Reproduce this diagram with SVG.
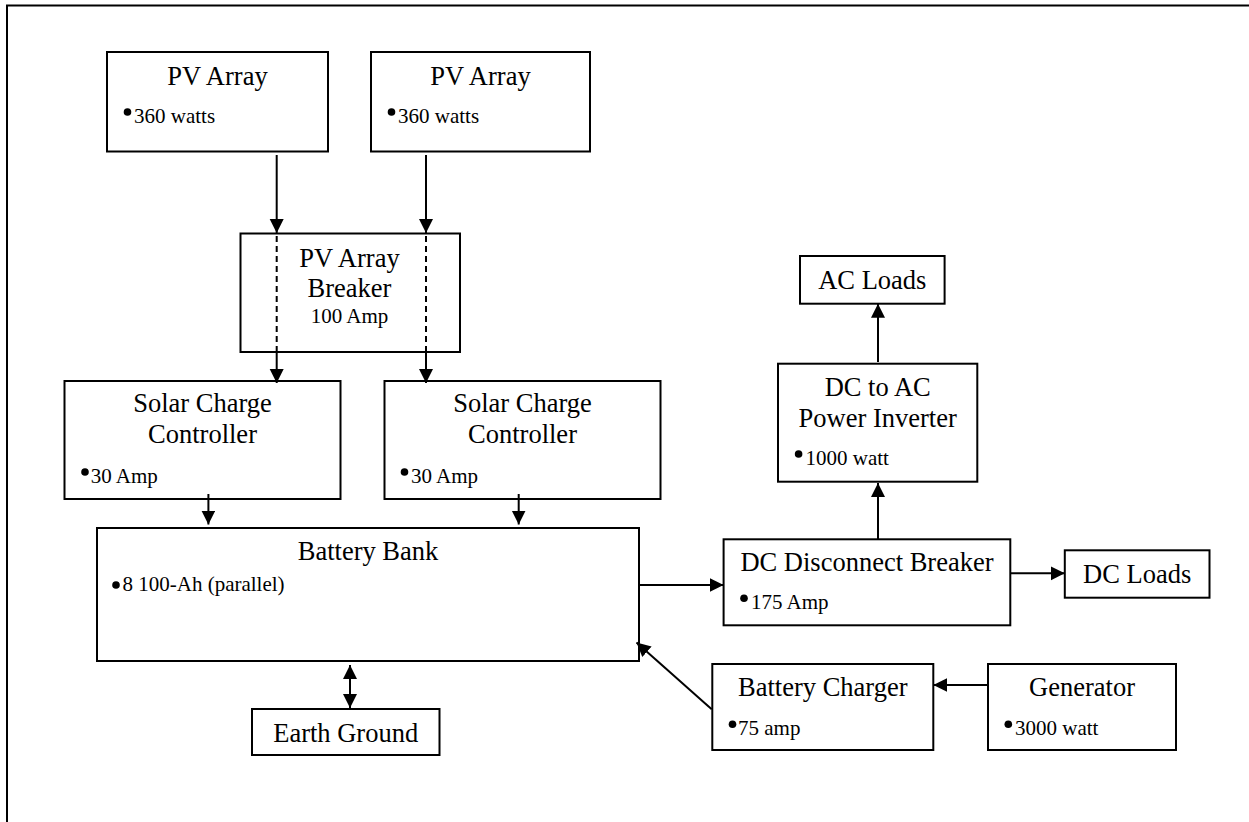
<svg xmlns="http://www.w3.org/2000/svg" width="1249" height="822" viewBox="0 0 1249 822">
<defs>
<style>
.box{fill:#fff;stroke:#000;stroke-width:2}
.t{font-family:"Liberation Serif","Times New Roman",serif;font-size:26.5px;fill:#000;text-anchor:middle}
.s{font-family:"Liberation Serif","Times New Roman",serif;font-size:21px;fill:#000}
.sc{font-family:"Liberation Serif","Times New Roman",serif;font-size:21px;fill:#000;text-anchor:middle}
.b{fill:#000}
.ln{stroke:#000;stroke-width:2;fill:none}
.dash{stroke:#000;stroke-width:2;fill:none;stroke-dasharray:6 4}
</style>
<marker id="ah" markerUnits="userSpaceOnUse" markerWidth="15" markerHeight="15" refX="14" refY="7" orient="auto">
<path d="M0,0 L14,7 L0,14 Z" fill="#000"/>
</marker>
<marker id="as" markerUnits="userSpaceOnUse" markerWidth="15" markerHeight="15" refX="0" refY="7" orient="auto">
<path d="M14,0 L0,7 L14,14 Z" fill="#000"/>
</marker>
</defs>
<rect x="0" y="0" width="1249" height="822" fill="#fff"/>
<path d="M7,840 L7,5.5 L1260,5.5" fill="none" stroke="#000" stroke-width="2"/>

<g id="pv1">
<rect class="box" x="107" y="52" width="221" height="99.5"/>
<text class="t" x="217.5" y="85">PV Array</text>
<circle class="b" cx="127.5" cy="112" r="3.8"/>
<text class="s" x="134" y="123">360 watts</text>
</g>
<g id="pv2">
<rect class="box" x="371" y="52" width="219" height="99.5"/>
<text class="t" x="480.5" y="85">PV Array</text>
<circle class="b" cx="391.5" cy="112" r="3.8"/>
<text class="s" x="398" y="123">360 watts</text>
</g>
<g id="breaker">
<rect class="box" x="240.5" y="233.5" width="219.5" height="118.5"/>
<text class="t" x="349.5" y="266.7">PV Array</text>
<text class="t" x="349.5" y="296.7">Breaker</text>
<text class="sc" x="349.5" y="323">100 Amp</text>
</g>
<g id="scc1">
<rect class="box" x="64.5" y="381" width="276" height="118"/>
<text class="t" x="202.5" y="411.7">Solar Charge</text>
<text class="t" x="202.5" y="443.3">Controller</text>
<circle class="b" cx="85" cy="472" r="3.8"/>
<text class="s" x="90.7" y="482.7">30 Amp</text>
</g>
<g id="scc2">
<rect class="box" x="384.5" y="381" width="276" height="118"/>
<text class="t" x="522.5" y="411.7">Solar Charge</text>
<text class="t" x="522.5" y="443.3">Controller</text>
<circle class="b" cx="404.5" cy="472" r="3.8"/>
<text class="s" x="411" y="482.7">30 Amp</text>
</g>
<g id="battery">
<rect class="box" x="97" y="528" width="542" height="133"/>
<text class="t" x="368" y="560">Battery Bank</text>
<circle class="b" cx="116" cy="585" r="3.8"/>
<text class="s" x="122.5" y="590.7">8 100-Ah (parallel)</text>
</g>
<g id="earth">
<rect class="box" x="252" y="709" width="187.5" height="46"/>
<text class="t" x="345.7" y="741.7">Earth Ground</text>
</g>
<g id="acloads">
<rect class="box" x="800" y="256" width="144.6" height="47.7"/>
<text class="t" x="872.3" y="289">AC Loads</text>
</g>
<g id="inverter">
<rect class="box" x="778" y="363.7" width="199.3" height="118"/>
<text class="t" x="877.7" y="396">DC to AC</text>
<text class="t" x="877.7" y="426.7">Power Inverter</text>
<circle class="b" cx="798.6" cy="454" r="3.8"/>
<text class="s" x="805.5" y="465">1000 watt</text>
</g>
<g id="dcdisconnect">
<rect class="box" x="723.6" y="539.3" width="286.7" height="86"/>
<text class="t" x="867" y="571">DC Disconnect Breaker</text>
<circle class="b" cx="744" cy="598.3" r="3.8"/>
<text class="s" x="751" y="609.3">175 Amp</text>
</g>
<g id="dcloads">
<rect class="box" x="1064.8" y="550.3" width="144.7" height="47.4"/>
<text class="t" x="1137.2" y="583.3">DC Loads</text>
</g>
<g id="charger">
<rect class="box" x="712.3" y="664" width="221" height="86"/>
<text class="t" x="822.8" y="695.7">Battery Charger</text>
<circle class="b" cx="732.5" cy="724.3" r="3.8"/>
<text class="s" x="738" y="735">75 amp</text>
</g>
<g id="generator">
<rect class="box" x="988" y="664" width="188" height="86"/>
<text class="t" x="1082" y="695.7">Generator</text>
<circle class="b" cx="1008.3" cy="724.3" r="3.8"/>
<text class="s" x="1015" y="735">3000 watt</text>
</g>

<g id="connectors">
<line class="ln" x1="276.7" y1="155" x2="276.7" y2="233" marker-end="url(#ah)"/>
<line class="ln" x1="426" y1="155" x2="426" y2="233" marker-end="url(#ah)"/>
<line class="dash" x1="276.7" y1="236" x2="276.7" y2="352"/>
<line class="dash" x1="426" y1="236" x2="426" y2="352"/>
<line class="ln" x1="276.7" y1="352" x2="276.7" y2="383" marker-end="url(#ah)"/>
<line class="ln" x1="426" y1="352" x2="426" y2="383" marker-end="url(#ah)"/>
<line class="ln" x1="208.4" y1="494" x2="208.4" y2="524.5" marker-end="url(#ah)"/>
<line class="ln" x1="518.7" y1="494" x2="518.7" y2="524.5" marker-end="url(#ah)"/>
<line class="ln" x1="350" y1="665" x2="350" y2="708" marker-start="url(#as)" marker-end="url(#ah)"/>
<line class="ln" x1="639" y1="585" x2="723.6" y2="585" marker-end="url(#ah)"/>
<line class="ln" x1="878" y1="539.3" x2="878" y2="483" marker-end="url(#ah)"/>
<line class="ln" x1="878" y1="362" x2="878" y2="303.7" marker-end="url(#ah)"/>
<line class="ln" x1="1010.3" y1="573.3" x2="1064.8" y2="573.3" marker-end="url(#ah)"/>
<line class="ln" x1="988" y1="685" x2="933.3" y2="685" marker-end="url(#ah)"/>
<line class="ln" x1="711.7" y1="709.3" x2="636.5" y2="642.5" marker-end="url(#ah)"/>
</g>
</svg>
